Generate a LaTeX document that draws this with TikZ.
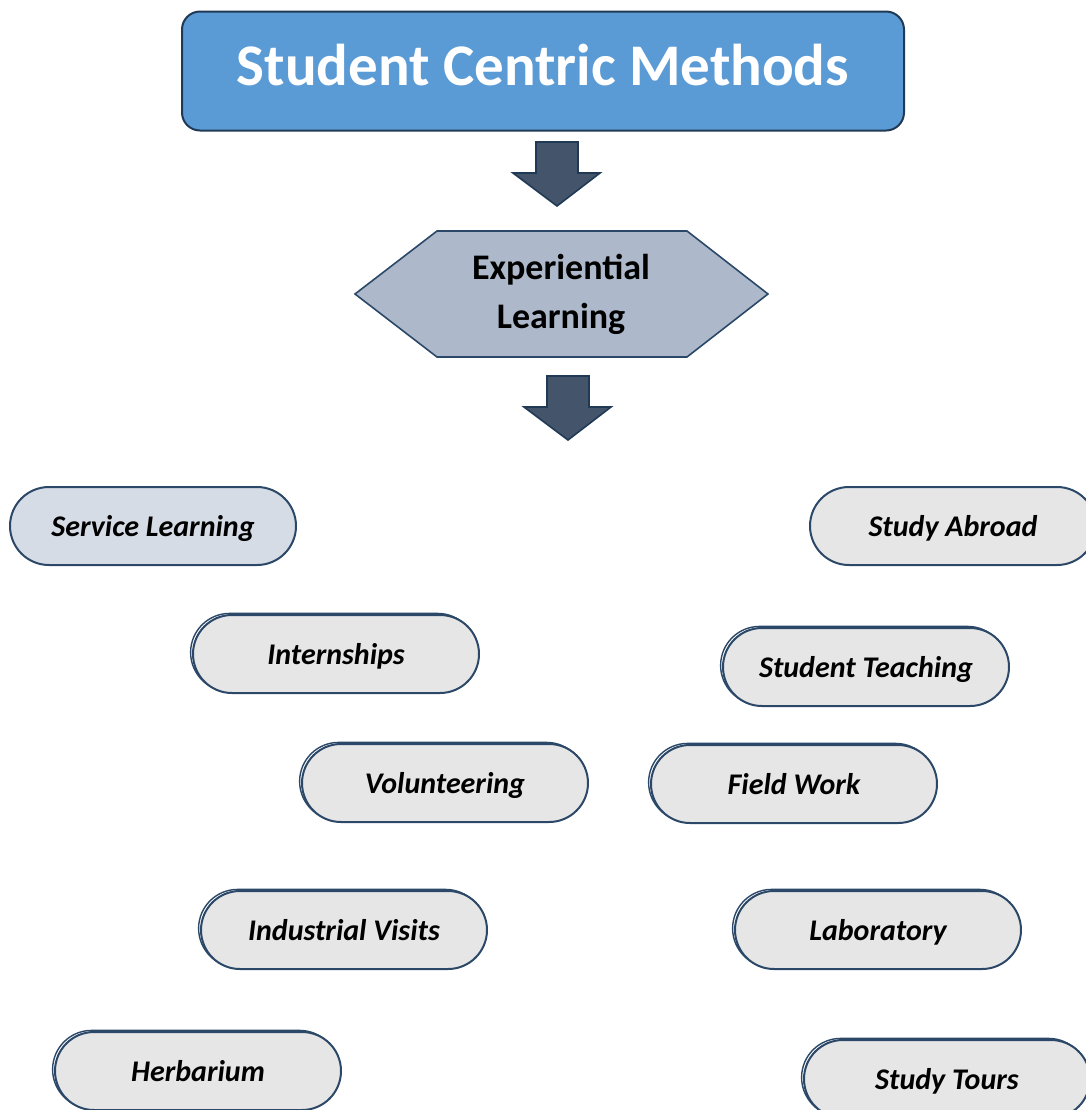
\documentclass[tikz,border=0pt]{standalone}
\usepackage{fontspec}
\setmainfont{Carlito}
\definecolor{titleblue}{HTML}{5B9BD5}
\definecolor{navyedge}{HTML}{203A56}
\definecolor{arrowfill}{HTML}{44546A}
\definecolor{hexfill}{HTML}{ADB9CA}
\definecolor{pillgray}{HTML}{E7E6E6}
\definecolor{pillblue}{HTML}{D6DCE5}
\definecolor{pilledge}{HTML}{2B4868}

\begin{document}
\begin{tikzpicture}[x=0.5pt, y=-0.5pt,
    titlebox/.style={draw=navyedge, line width=1pt, fill=titleblue, rounded corners=9pt,
      minimum width=361pt, minimum height=59.5pt, text=white,
      text height=19pt, text depth=4.5pt,
      font=\bfseries\fontsize{29.5}{34}\selectfont},
    blockarrow/.style={draw=navyedge, line width=0.8pt, fill=arrowfill},
    hexshape/.style={draw=pilledge, line width=0.8pt, fill=hexfill},
    pill/.style={draw=pilledge, line width=1pt, fill=pillgray, rounded corners=19.5pt,
      minimum width=143pt, minimum height=39pt, inner sep=0pt,
      text height=12pt, text depth=1.5pt,
      font=\bfseries\itshape\fontsize{15}{18}\selectfont},
    ghost/.style={preaction={draw=pilledge, line width=0.7pt,
      transform canvas={shift={(-1.2pt,0.8pt)}}}}]
  \useasboundingbox (0,0) rectangle (1086,1110);

  % top box
  \node[titlebox] (methods) at (543,71) {Student Centric Methods};

  % the two block arrows
  \foreach \cx/\cy in {557/142, 568/376} {
    \draw[blockarrow] (\cx-21,\cy) -- (\cx+21,\cy) -- (\cx+21,\cy+31) -- (\cx+43,\cy+31)
      -- (\cx,\cy+64) -- (\cx-44,\cy+31) -- (\cx-21,\cy+31) -- cycle;
  }

  % hexagon
  \draw[hexshape] (355,294) -- (437,231) -- (687,231) -- (768,294) -- (687,357) -- (437,357) -- cycle;
  \node[align=center, font=\bfseries\fontsize{18}{24.5}\selectfont] (experiential) at (561,294)
    {Experiential\\Learning};

  % left column
  \node[pill, fill=pillblue] (service) at (153,526) {Service Learning};
  \node[pill, ghost] (intern) at (336,654) {Internships};
  \node[pill, ghost] (volunteer) at (445,783) {Volunteering};
  \node[pill, ghost] (industrial) at (344,930) {Industrial Visits};
  \node[pill, ghost] (herbarium) at (198,1071) {Herbarium};

  % right column
  \node[pill] (abroad) at (953,526) {Study Abroad};
  \node[pill, ghost] (teaching) at (866,667) {Student Teaching};
  \node[pill, ghost] (fieldwork) at (794,784) {Field Work};
  \node[pill, ghost] (laboratory) at (878,930) {Laboratory};
  \node[pill, ghost] (tours) at (947,1079) {Study Tours};
\end{tikzpicture}
\end{document}
